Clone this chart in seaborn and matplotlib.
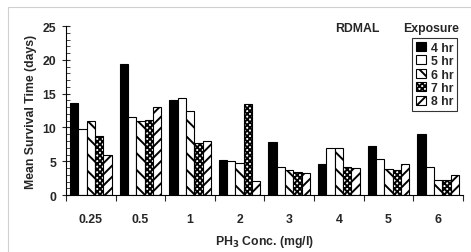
import matplotlib
matplotlib.use("Agg")
import matplotlib.pyplot as plt
import matplotlib.lines as mlines
import pandas as pd
import seaborn as sns

concs = ["0.25", "0.5", "1", "2", "3", "4", "5", "6"]
hr4 = [13.6, 19.4, 14.1, 5.2, 7.9, 4.6, 7.2, 9.1]
hr5 = [9.8, 11.5, 14.3, 5.0, 4.1, 6.9, 5.3, 4.1]
hr6 = [11.0, 10.9, 12.5, 4.7, 3.7, 6.9, 3.8, 2.3]
hr7 = [8.7, 11.1, 7.7, 13.5, 3.4, 4.2, 3.7, 2.3]
hr8 = [5.9, 13.1, 8.0, 2.1, 3.2, 4.0, 4.6, 2.9]
exposures = ["4 hr", "5 hr", "6 hr", "7 hr", "8 hr"]

rows = []
for name, vals in zip(exposures, [hr4, hr5, hr6, hr7, hr8]):
    for c, v in zip(concs, vals):
        rows.append({"conc": c, "exposure": name, "days": v})
df = pd.DataFrame(rows)

sns.set_style("white")
plt.rcParams["font.family"] = ["Liberation Sans", "DejaVu Sans"]
plt.rcParams["font.weight"] = "bold"
plt.rcParams["hatch.linewidth"] = 1.4

fs = 8.8

fig = plt.figure(figsize=(4.71, 2.53), dpi=100)
ax = fig.add_axes([0.14, 0.225, 0.843, 0.668])

sns.barplot(data=df, x="conc", y="days", hue="exposure", order=concs,
            hue_order=exposures, width=0.84, gap=0, ax=ax,
            edgecolor="black", linewidth=0.8, legend=False)

faces = ["black", "white", "white", "white", "white"]
hatches = [None, None, "\\\\", "xxxxxx", "///"]
for cont, fc, h in zip(ax.containers, faces, hatches):
    for bar in cont:
        bar.set_facecolor(fc)
        bar.set_edgecolor("black")
        if h:
            bar.set_hatch(h)

ax.set_ylim(0, 25)
ax.set_xlim(-0.5, 7.5)
ax.set_yticks(range(0, 26, 5))
ax.set_yticks(range(0, 26), minor=True)
ax.set_xticks([i - 0.5 for i in range(9)], minor=True)
ax.tick_params(axis="y", which="major", direction="inout", length=6,
               width=0.8, labelsize=fs, pad=4)
ax.tick_params(axis="y", which="minor", direction="in", length=3, width=0.6)
ax.tick_params(axis="x", which="major", length=0, labelsize=fs, pad=13)
ax.tick_params(axis="x", which="minor", direction="out", length=4, width=0.8)
ax.tick_params(left=True, bottom=True, which="both")

for s in ["top", "right"]:
    ax.spines[s].set_visible(False)
for s in ["left", "bottom"]:
    ax.spines[s].set_color("black")
    ax.spines[s].set_linewidth(0.8)

ax.set_ylabel("Mean Survival Time (days)", fontsize=fs, fontweight="bold")
ax.set_xlabel("PH$_3$ Conc. (mg/l)", fontsize=fs, fontweight="bold",
              labelpad=6)

handles = [plt.Rectangle((0, 0), 1, 1, facecolor=fc, edgecolor="black",
                         hatch=h, linewidth=0.8)
           for fc, h in zip(faces, hatches)]
leg = ax.legend(handles, exposures, loc="upper right",
                bbox_to_anchor=(0.985, 0.93), frameon=True, fancybox=False,
                fontsize=fs, handlelength=0.8, handleheight=0.8,
                handletextpad=0.4, borderpad=0.3, labelspacing=0.12,
                borderaxespad=0)
leg.get_frame().set_edgecolor("black")
leg.get_frame().set_linewidth(0.8)

fig.text(0.712, 0.885, "RDMAL", fontsize=fs, fontweight="bold",
         ha="left", va="center")
fig.text(0.855, 0.885, "Exposure", fontsize=fs, fontweight="bold",
         ha="left", va="center")

# light page border seen at top and left of the source image
fig.add_artist(mlines.Line2D([8 / 471, 1], [1 - 8 / 253, 1 - 8 / 253],
                             color="#d0d0d0", linewidth=0.8))
fig.add_artist(mlines.Line2D([8 / 471, 8 / 471], [0, 1 - 8 / 253],
                             color="#d0d0d0", linewidth=0.8))

fig.savefig("out.png", dpi=100)
